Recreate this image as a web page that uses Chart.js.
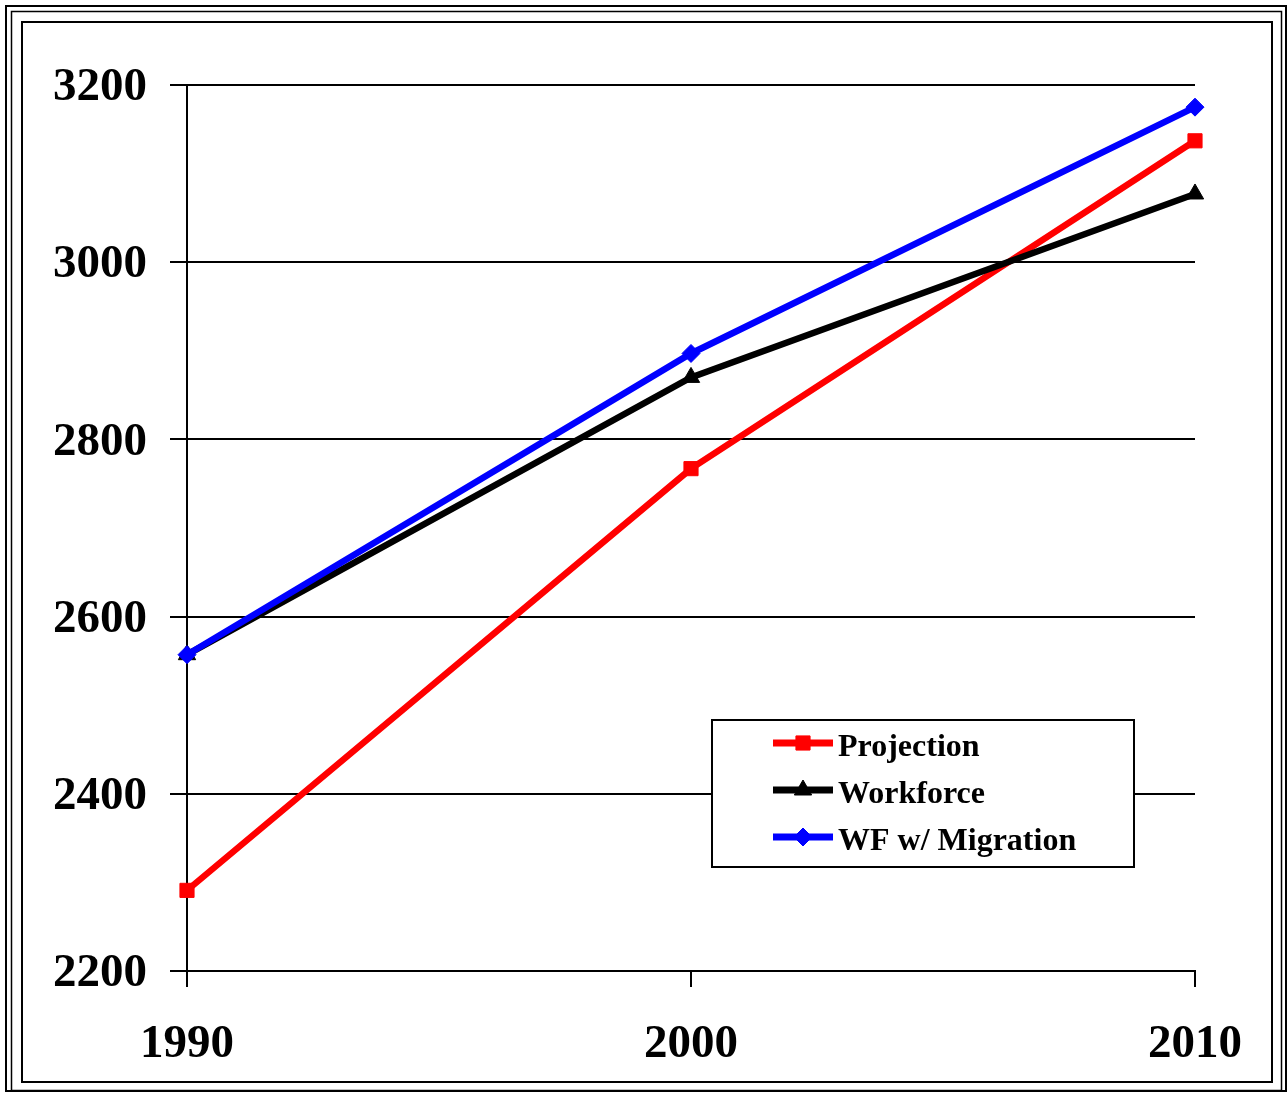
<!DOCTYPE html>
<html>
<head>
<meta charset="utf-8">
<script src="https://cdn.jsdelivr.net/npm/chart.js@4.4.1/dist/chart.umd.min.js"></script>
<style>
  html, body { margin: 0; padding: 0; background: #fff; }
  #wrap { width: 1288px; height: 1093px; position: relative; }
</style>
</head>
<body>
<div id="wrap"><canvas id="chart" width="1288" height="1093"></canvas></div>
<script>
// data
const years = ["1990", "2000", "2010"];
const projection = [2291, 2767, 3137];
const workforce = [2557, 2870, 3077];
const wfMigration = [2557, 2897, 3175];
const yTicks = [2200, 2400, 2600, 2800, 3000, 3200];

const serif = "'Liberation Serif', 'Times New Roman', serif";

// triple frame around the whole picture
const framePlugin = {
    id: "frame",
    afterDraw(chart) {
        const ctx = chart.ctx;
        ctx.save();
        ctx.strokeStyle = "#000";
        ctx.lineWidth = 2;
        ctx.strokeRect(6, 6, 1280, 1085);
        ctx.lineWidth = 1.5;
        ctx.strokeRect(11.5, 11.5, 1270, 1079);
        ctx.lineWidth = 2;
        ctx.strokeRect(22, 22, 1250, 1060);
        ctx.restore();
    }
};

// boxed legend inside the plot
const boxLegend = {
    id: "boxLegend",
    afterDraw(chart) {
        const ctx = chart.ctx;
        const x0 = 712, y0 = 720, w = 422, h = 147;
        ctx.save();
        ctx.fillStyle = "#fff";
        ctx.fillRect(x0, y0, w, h);
        ctx.strokeStyle = "#000";
        ctx.lineWidth = 2;
        ctx.strokeRect(x0, y0, w, h);
        [0, 1, 2].forEach((i) => {
            const ds = chart.data.datasets[i];
            const y = 743 + i * 47;
            ctx.strokeStyle = ds.borderColor;
            ctx.lineWidth = 7;
            ctx.beginPath();
            ctx.moveTo(773, y);
            ctx.lineTo(833, y);
            ctx.stroke();
            ctx.fillStyle = ds.borderColor;
            ctx.lineWidth = 1;
            Chart.helpers.drawPoint(ctx, {
                pointStyle: ds.pointStyle,
                rotation: 0,
                radius: ds.pointRadius,
                borderWidth: 1
            }, 803, y);
            ctx.fillStyle = "#000";
            ctx.font = "bold 32px " + serif;
            ctx.textBaseline = "alphabetic";
            ctx.textAlign = "left";
            ctx.fillText(ds.label, 838, y + 13);
        });
        ctx.restore();
    }
};

new Chart(document.getElementById("chart"), {
    type: "line",
    data: {
        labels: years,
        datasets: [
            {
                label: "Projection",
                data: projection,
                borderColor: "#ff0000",
                backgroundColor: "#ff0000",
                borderWidth: 6.5,
                pointStyle: "rect",
                pointRadius: 10,
                pointBorderWidth: 1,
                order: 3
            },
            {
                label: "Workforce",
                data: workforce,
                borderColor: "#000000",
                backgroundColor: "#000000",
                borderWidth: 6.5,
                pointStyle: "triangle",
                pointRadius: 10,
                pointBorderWidth: 1,
                order: 2
            },
            {
                label: "WF w/ Migration",
                data: wfMigration,
                borderColor: "#0000ff",
                backgroundColor: "#0000ff",
                borderWidth: 6.5,
                pointStyle: "rectRot",
                pointRadius: 9,
                pointBorderWidth: 1,
                order: 1
            }
        ]
    },
    options: {
        responsive: false,
        animation: false,
        events: [],
        layout: { padding: { left: 0, top: 85, right: 93, bottom: 0 } },
        plugins: {
            legend: { display: false },
            tooltip: { enabled: false }
        },
        scales: {
            x: {
                offset: false,
                grid: {
                    drawOnChartArea: false,
                    drawTicks: true,
                    tickLength: 16,
                    color: "#000",
                    lineWidth: 2
                },
                border: { display: true, color: "#000", width: 2 },
                ticks: {
                    color: "#000",
                    padding: 30,
                    maxRotation: 0,
                    font: { family: serif, size: 47, weight: "bold" }
                },
                afterFit(scale) { scale.height = 122; }
            },
            y: {
                min: 2200,
                max: 3200,
                afterBuildTicks(scale) {
                    scale.ticks = yTicks.map(v => ({ value: v }));
                },
                grid: {
                    drawOnChartArea: true,
                    drawTicks: true,
                    tickLength: 17,
                    color: "#000",
                    lineWidth: 2
                },
                border: { display: true, color: "#000", width: 2 },
                ticks: {
                    color: "#000",
                    padding: 23,
                    labelOffset: 3,
                    callback: (v) => String(v),
                    font: { family: serif, size: 47, weight: "bold" }
                },
                afterFit(scale) { scale.width = 187; }
            }
        }
    },
    plugins: [framePlugin, boxLegend]
});
</script>
</body>
</html>
